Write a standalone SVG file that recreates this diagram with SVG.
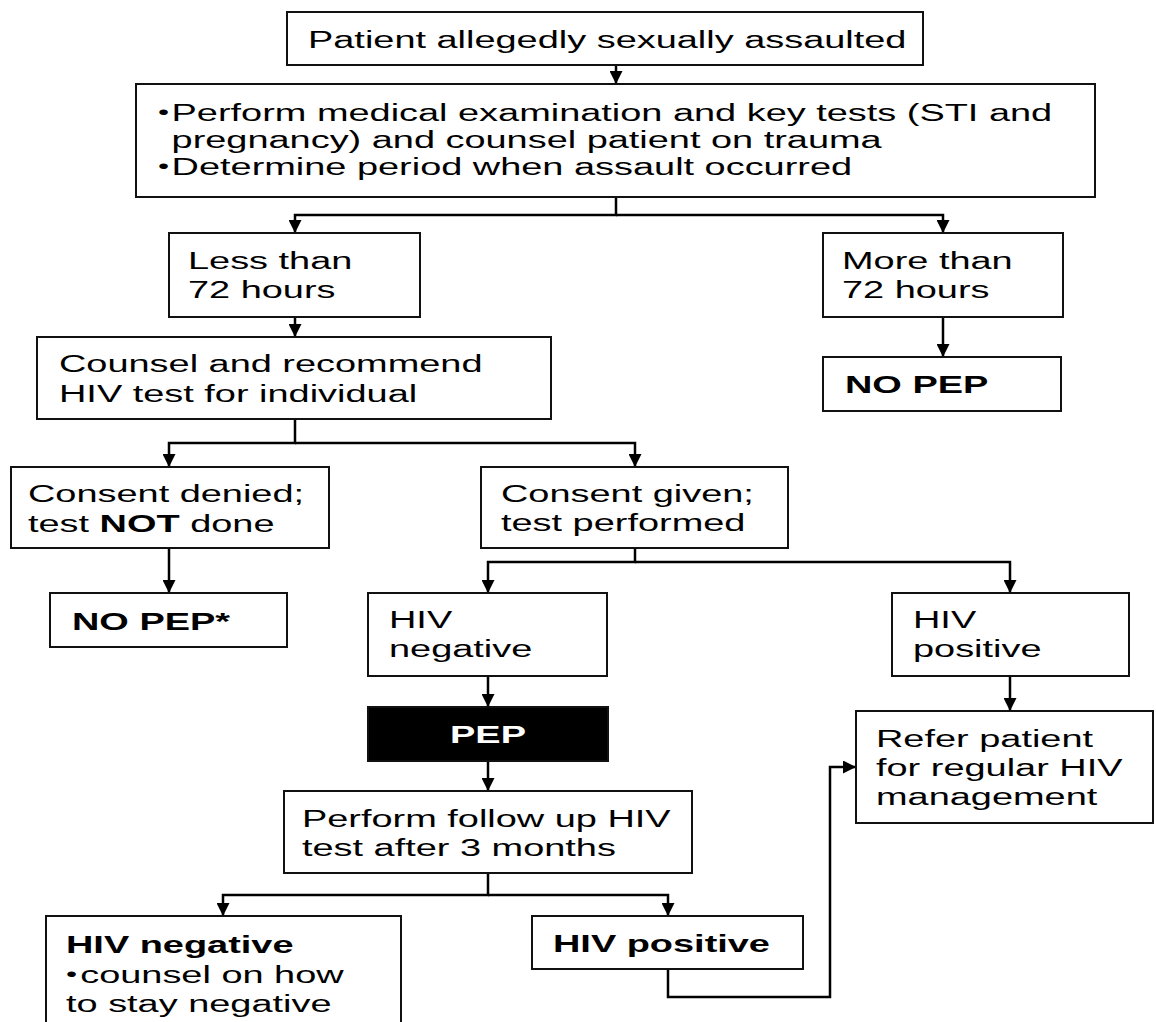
<svg xmlns="http://www.w3.org/2000/svg" width="1156" height="1022" viewBox="0 0 1156 1022">
<defs>
<style>
.box{fill:#fff;stroke:#111;stroke-width:2}
.dark{fill:#000;stroke:#111;stroke-width:2}
.t{font-family:"Liberation Sans",Arial,sans-serif;font-size:24px;fill:#000}
.b{font-weight:bold}
.w{fill:#fff}
.bul{font-size:20px}
.ca{fill:none;stroke:#000;stroke-width:2.5;marker-end:url(#ah)}
</style>
<marker id="ah" markerUnits="userSpaceOnUse" markerWidth="13" markerHeight="13" viewBox="0 0 12 12" refX="12" refY="6" orient="auto">
<path d="M0,0 L12,6 L0,12 z" fill="#000"/>
</marker>
</defs>
<rect width="1156" height="1022" fill="#fff"/>
<g id="connectors">
<path class="ca" d="M616,65 V84"/>
<path class="ca" d="M616,197 V215 H295 V233"/>
<path class="ca" d="M616,215 H943 V233"/>
<path class="ca" d="M295,317 V337"/>
<path class="ca" d="M943,317 V357"/>
<path class="ca" d="M295,419 V443 H169 V467"/>
<path class="ca" d="M295,443 H635 V467"/>
<path class="ca" d="M169,548 V593"/>
<path class="ca" d="M635,548 V562 H488 V593"/>
<path class="ca" d="M635,562 H1010 V593"/>
<path class="ca" d="M488,676 V707"/>
<path class="ca" d="M1010,676 V711"/>
<path class="ca" d="M488,761 V791"/>
<path class="ca" d="M488,873 V895 H223 V916"/>
<path class="ca" d="M488,895 H668 V916"/>
<path class="ca" d="M668,969 V997 H830 V767 H856"/>
</g>
<g id="n1">
<rect class="box" x="287" y="12" width="636" height="53"/>
<text class="t" transform="translate(308,0) scale(1.58,1)"><tspan x="0" y="48">Patient allegedly sexually assaulted</tspan></text>
</g>
<g id="n2">
<rect class="box" x="136" y="84" width="959" height="113"/>
<text class="t" transform="translate(158,0) scale(1.58,1)"><tspan class="bul" x="0" y="119">•</tspan><tspan x="8.6" y="121">Perform medical examination and key tests (STI and</tspan><tspan x="8.6" y="148">pregnancy) and counsel patient on trauma</tspan><tspan class="bul" x="0" y="173">•</tspan><tspan x="8.6" y="175">Determine period when assault occurred</tspan></text>
</g>
<g id="n3">
<rect class="box" x="169" y="233" width="251" height="84"/>
<text class="t" transform="translate(188,0) scale(1.58,1)"><tspan x="0" y="269">Less than</tspan><tspan x="0" y="298">72 hours</tspan></text>
</g>
<g id="n4">
<rect class="box" x="823" y="233" width="240" height="84"/>
<text class="t" transform="translate(842,0) scale(1.58,1)"><tspan x="0" y="269">More than</tspan><tspan x="0" y="298">72 hours</tspan></text>
</g>
<g id="n5">
<rect class="box" x="823" y="357" width="238" height="54"/>
<text class="t b" transform="translate(845,0) scale(1.58,1)"><tspan x="0" y="393">NO PEP</tspan></text>
</g>
<g id="n6">
<rect class="box" x="37" y="337" width="514" height="82"/>
<text class="t" transform="translate(59,0) scale(1.58,1)"><tspan x="0" y="372">Counsel and recommend</tspan><tspan x="0" y="402">HIV test for individual</tspan></text>
</g>
<g id="n7">
<rect class="box" x="11" y="467" width="318" height="81"/>
<text class="t" transform="translate(28,0) scale(1.58,1)"><tspan x="0" y="502">Consent denied;</tspan><tspan x="0" y="532">test <tspan class="b">NOT</tspan> done</tspan></text>
</g>
<g id="n8">
<rect class="box" x="481" y="467" width="307" height="81"/>
<text class="t" transform="translate(501,0) scale(1.58,1)"><tspan x="0" y="502">Consent given;</tspan><tspan x="0" y="531">test performed</tspan></text>
</g>
<g id="n9">
<rect class="box" x="50" y="593" width="237" height="54"/>
<text class="t b" transform="translate(72,0) scale(1.58,1)"><tspan x="0" y="630">NO PEP*</tspan></text>
</g>
<g id="n10">
<rect class="box" x="368" y="593" width="239" height="83"/>
<text class="t" transform="translate(389,0) scale(1.58,1)"><tspan x="0" y="628">HIV</tspan><tspan x="0" y="657">negative</tspan></text>
</g>
<g id="n11">
<rect class="box" x="892" y="593" width="237" height="83"/>
<text class="t" transform="translate(913,0) scale(1.58,1)"><tspan x="0" y="628">HIV</tspan><tspan x="0" y="657">positive</tspan></text>
</g>
<g id="n12">
<rect class="dark" x="368" y="707" width="240" height="54"/>
<text class="t b w" text-anchor="middle" transform="translate(488,0) scale(1.58,1)"><tspan x="0" y="743">PEP</tspan></text>
</g>
<g id="n13">
<rect class="box" x="284" y="791" width="408" height="82"/>
<text class="t" transform="translate(302,0) scale(1.58,1)"><tspan x="0" y="827">Perform follow up HIV</tspan><tspan x="0" y="856">test after 3 months</tspan></text>
</g>
<g id="n14">
<rect class="box" x="856" y="711" width="297" height="112"/>
<text class="t" transform="translate(876,0) scale(1.58,1)"><tspan x="0" y="747">Refer patient</tspan><tspan x="0" y="776">for regular HIV</tspan><tspan x="0" y="805">management</tspan></text>
</g>
<g id="n15">
<rect class="box" x="46" y="916" width="355" height="130"/>
<text class="t" transform="translate(66,0) scale(1.58,1)"><tspan class="b" x="0" y="953">HIV negative</tspan><tspan class="bul" x="0" y="981">•</tspan><tspan x="9" y="983">counsel on how</tspan><tspan x="0" y="1012">to stay negative</tspan></text>
</g>
<g id="n16">
<rect class="box" x="532" y="916" width="271" height="53"/>
<text class="t b" transform="translate(553,0) scale(1.58,1)"><tspan x="0" y="952">HIV positive</tspan></text>
</g>
</svg>
